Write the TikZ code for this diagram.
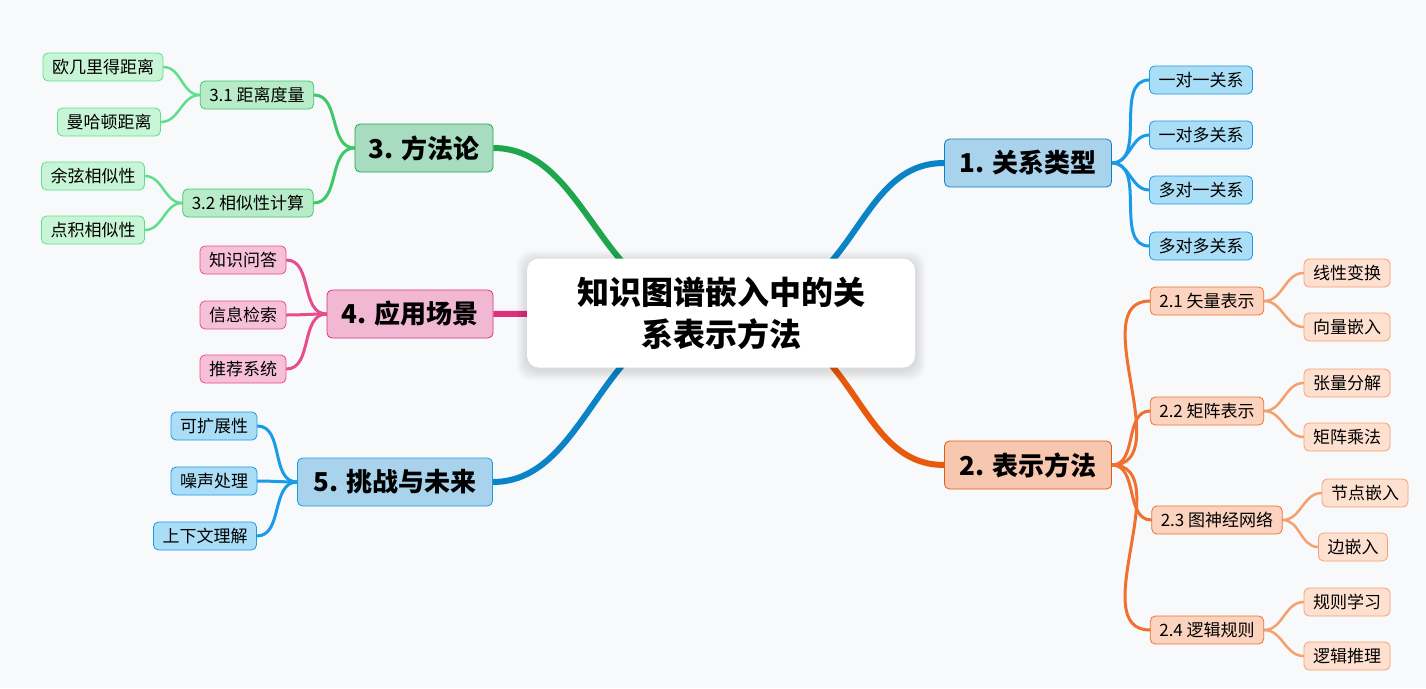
\documentclass[tikz,border=0pt]{standalone}
\usepackage{fontspec}
\setmainfont{Noto Sans CJK SC}
\pgfdeclarelayer{edges}
\pgfsetlayers{edges,main}
\definecolor{bgc}{HTML}{F8F9FB}
\definecolor{bA}{HTML}{0A84C6}\definecolor{bAf}{HTML}{A9D3EC}\definecolor{bAl}{HTML}{1A9BE8}\definecolor{bAlf}{HTML}{AADDF6}
\definecolor{oA}{HTML}{E8590C}\definecolor{oAf}{HTML}{F7C7B0}\definecolor{oB}{HTML}{F07030}\definecolor{oBf}{HTML}{FBD3BF}\definecolor{oC}{HTML}{F5A070}\definecolor{oCf}{HTML}{FDE0D0}
\definecolor{gA}{HTML}{1EA64C}\definecolor{gAf}{HTML}{A8DCC0}\definecolor{gB}{HTML}{3EC86A}\definecolor{gBf}{HTML}{B8ECC8}\definecolor{gC}{HTML}{5DE08A}\definecolor{gCf}{HTML}{C8F5D5}
\definecolor{pA}{HTML}{DC2F7E}\definecolor{pAf}{HTML}{F2B8D3}\definecolor{pB}{HTML}{E64D8F}\definecolor{pBf}{HTML}{F7C0D9}
\tikzset{
 mainbox/.style={draw=#1, fill=#1f, line width=0.8pt, rounded corners=5pt, minimum height=48pt, inner xsep=10pt, font=\fontsize{26}{28}\selectfont\bfseries},
 leafbox/.style={draw=#1, fill=#1f, line width=0.8pt, rounded corners=5pt, minimum height=28pt, inner xsep=9pt, font=\fontsize{17}{19}\selectfont},
 mainedge/.style={line width=6pt, #1},
 subedge/.style={line width=3pt, #1, line cap=round},
}
\begin{document}
\begin{tikzpicture}[x=1pt,y=-1pt]
\begin{pgfonlayer}{edges}
\fill[bgc] (0,0) rectangle (1426,688);
\end{pgfonlayer}
\useasboundingbox (0,0) rectangle (1426,688);
\foreach \r in {10,8,6,4,2} \fill[black, opacity=0.025, rounded corners=14pt] (527-\r,261-\r) rectangle (915+\r,370+\r);
\node[fill=white, rounded corners=12pt, minimum width=388pt, minimum height=109pt, text width=360pt, align=center, font=\fontsize{32}{42}\selectfont\bfseries] (c) at (721,313) {知识图谱嵌入中的关\\系表示方法};
% main
\node[mainbox=bA, fill=bAf, minimum width=167pt] (m1) at (1028,163) {1. 关系类型};
\node[mainbox=oA, fill=oAf, minimum width=167pt] (m2) at (1028,465) {2. 表示方法};
\node[mainbox=gA, fill=gAf, minimum width=138pt] (m3) at (424,148) {3. 方法论};
\node[mainbox=pA, fill=pAf, minimum width=166pt] (m4) at (410,314) {4. 应用场景};
\node[mainbox=bA, fill=bAf, draw=bAl, minimum width=195pt] (m5) at (395,482) {5. 挑战与未来};
% 1
\node[leafbox=bAl, fill=bAlf] (a1) at (1201,80) {一对一关系};
\node[leafbox=bAl, fill=bAlf] (a2) at (1201,135) {一对多关系};
\node[leafbox=bAl, fill=bAlf] (a3) at (1201,190) {多对一关系};
\node[leafbox=bAl, fill=bAlf] (a4) at (1201,246) {多对多关系};
% 2
\node[leafbox=oB, fill=oBf] (b1) at (1207,301) {2.1 矢量表示};
\node[leafbox=oB, fill=oBf] (b2) at (1207,411) {2.2 矩阵表示};
\node[leafbox=oB, fill=oBf] (b3) at (1217,520) {2.3 图神经网络};
\node[leafbox=oB, fill=oBf] (b4) at (1207,630) {2.4 逻辑规则};
\node[leafbox=oC, fill=oCf] (b11) at (1347,273) {线性变换};
\node[leafbox=oC, fill=oCf] (b12) at (1347,327) {向量嵌入};
\node[leafbox=oC, fill=oCf] (b21) at (1347,383) {张量分解};
\node[leafbox=oC, fill=oCf] (b22) at (1347,437) {矩阵乘法};
\node[leafbox=oC, fill=oCf] (b31) at (1365,493) {节点嵌入};
\node[leafbox=oC, fill=oCf] (b32) at (1353,547) {边嵌入};
\node[leafbox=oC, fill=oCf] (b41) at (1347,602) {规则学习};
\node[leafbox=oC, fill=oCf] (b42) at (1347,656) {逻辑推理};
% 3
\node[leafbox=gB, fill=gBf] (g1) at (257,95) {3.1 距离度量};
\node[leafbox=gB, fill=gBf] (g2) at (248,203) {3.2 相似性计算};
\node[leafbox=gC, fill=gCf] (g11) at (103,67) {欧几里得距离};
\node[leafbox=gC, fill=gCf] (g12) at (109,122) {曼哈顿距离};
\node[leafbox=gC, fill=gCf] (g21) at (93,176) {余弦相似性};
\node[leafbox=gC, fill=gCf] (g22) at (93,230) {点积相似性};
% 4
\node[leafbox=pB, fill=pBf] (p1) at (243,260) {知识问答};
\node[leafbox=pB, fill=pBf] (p2) at (243,315) {信息检索};
\node[leafbox=pB, fill=pBf] (p3) at (243,369) {推荐系统};
% 5
\node[leafbox=bAl, fill=bAlf] (f1) at (214,426) {可扩展性};
\node[leafbox=bAl, fill=bAlf] (f2) at (214,481) {噪声处理};
\node[leafbox=bAl, fill=bAlf] (f3) at (205,536) {上下文理解};
\begin{pgfonlayer}{edges}
\draw[mainedge=bA] (c.center) .. controls (860,313) and (850,163) .. (m1.west);
\draw[mainedge=oA] (c.center) .. controls (860,313) and (850,465) .. (m2.west);
\draw[mainedge=gA] (c.center) .. controls (600,313) and (590,148) .. (m3.east);
\draw[mainedge=pA] (c.center) -- (m4.east);
\draw[mainedge=bA] (c.center) .. controls (600,313) and (590,482) .. (m5.east);
\foreach \t in {a1,a2,a3,a4} \draw[subedge=bAl] (m1.east) to[out=0,in=180] (\t.west);
\foreach \t in {b1,b2,b3,b4} \draw[subedge=oB] (m2.east) to[out=0,in=180] (\t.west);
\foreach \s/\t in {b1/b11,b1/b12,b2/b21,b2/b22,b3/b31,b3/b32,b4/b41,b4/b42} \draw[subedge=oC, line width=2.5pt] (\s.east) to[out=0,in=180] (\t.west);
\foreach \t in {g1,g2} \draw[subedge=gB] (m3.west) to[out=180,in=0] (\t.east);
\foreach \s/\t in {g1/g11,g1/g12,g2/g21,g2/g22} \draw[subedge=gC, line width=2.5pt] (\s.west) to[out=180,in=0] (\t.east);
\foreach \t in {p1,p2,p3} \draw[subedge=pB] (m4.west) to[out=180,in=0] (\t.east);
\foreach \t in {f1,f2,f3} \draw[subedge=bAl] (m5.west) to[out=180,in=0] (\t.east);
\end{pgfonlayer}
\end{tikzpicture}
\end{document}
